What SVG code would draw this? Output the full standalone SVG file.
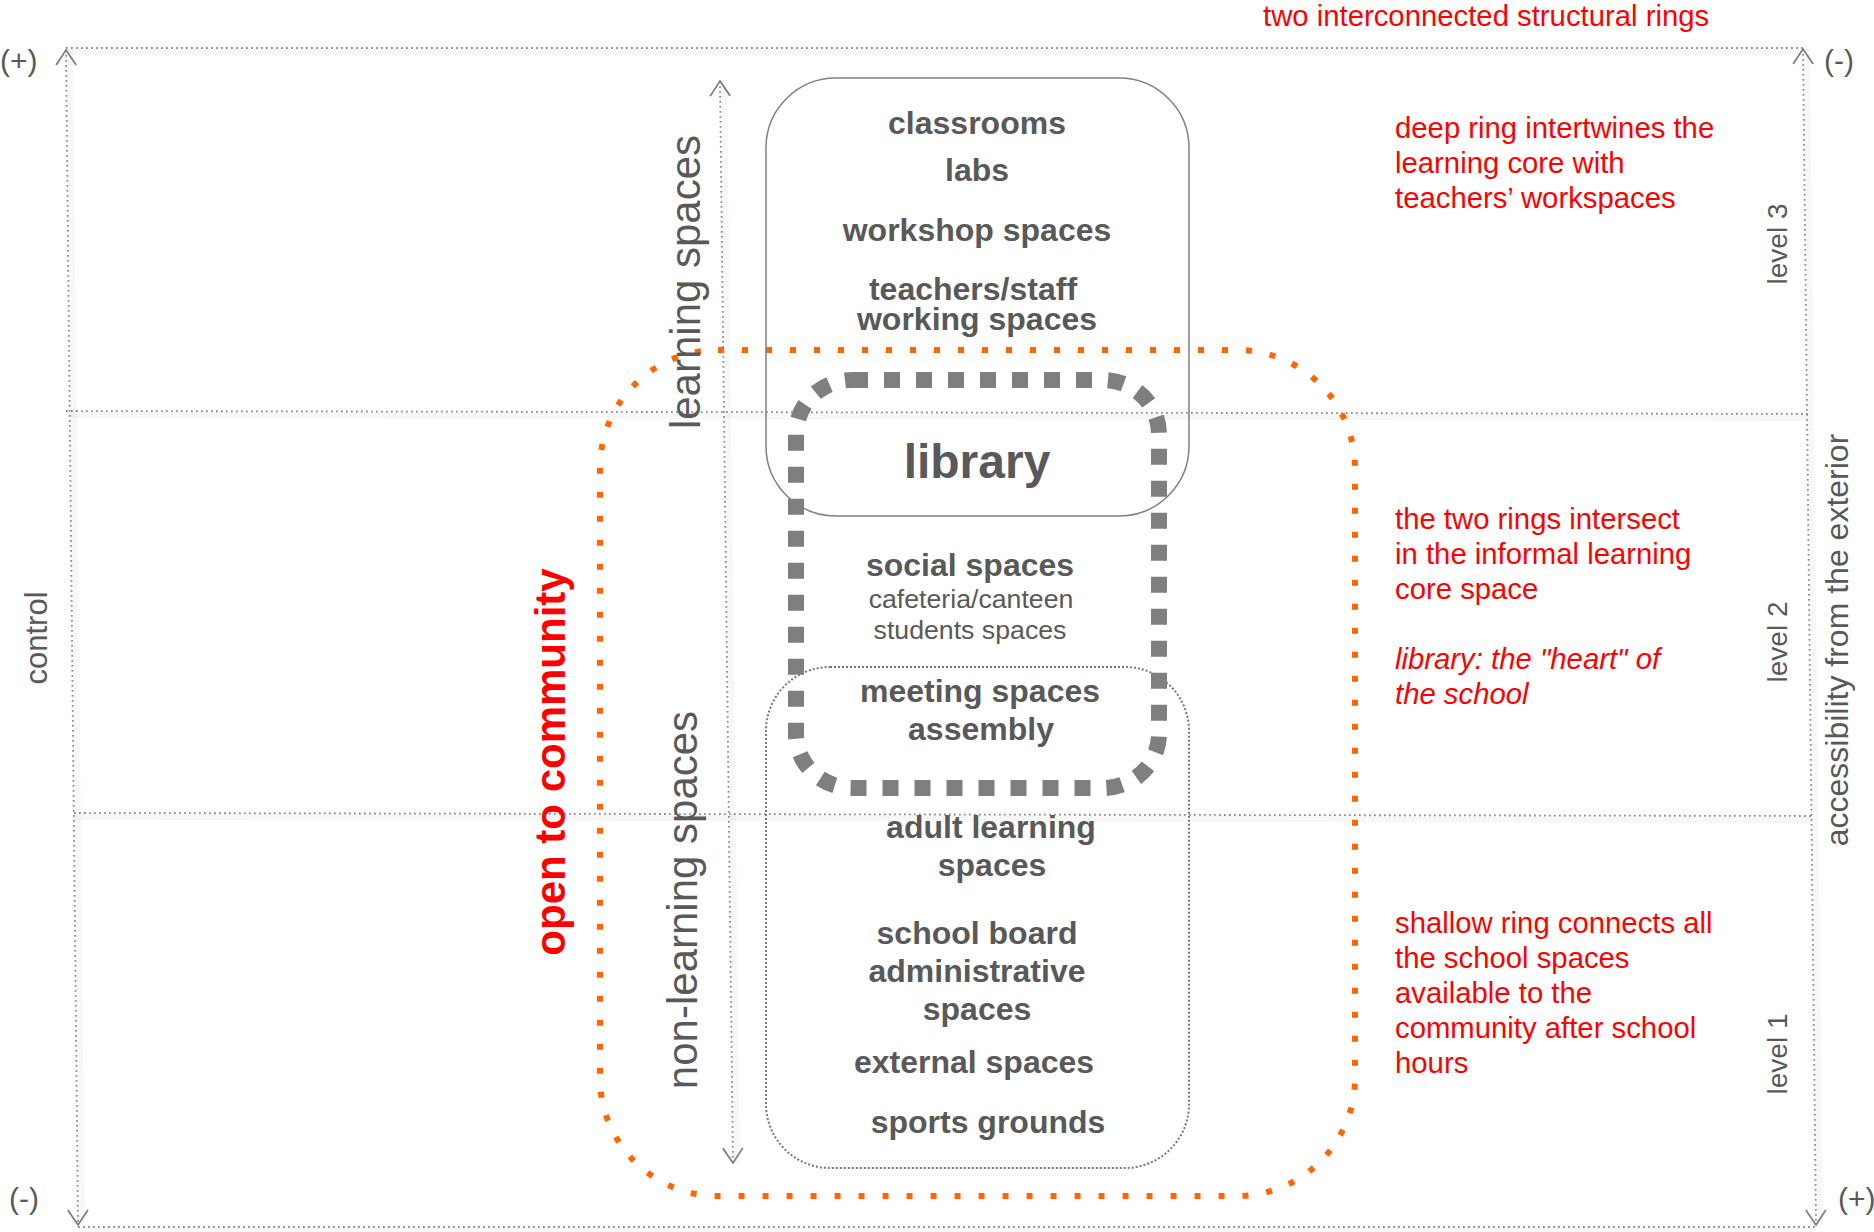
<svg xmlns="http://www.w3.org/2000/svg" width="1874" height="1232" viewBox="0 0 1874 1232">
<defs>
<style>
.ax{fill:none;stroke:#8c8c8c;stroke-width:1.8;stroke-dasharray:1.8 3.2}
.sh{fill:none;stroke:#000;stroke-opacity:0.03;stroke-width:6}
.t{font-family:"Liberation Sans",Arial,Helvetica,sans-serif;fill:#595959}
.b{font-weight:bold}
.c{text-anchor:middle}
.n32{font-size:32px}
.red{font-family:"Liberation Sans",Arial,Helvetica,sans-serif;fill:#ff0000;font-size:29.3px}
.pm{font-family:"Liberation Sans",Arial,sans-serif;fill:#595959;font-size:30px}
</style>
<marker id="chev" markerUnits="userSpaceOnUse" viewBox="-20 -15 24 30" markerWidth="24" markerHeight="30" refX="0" refY="0" orient="auto-start-reverse" overflow="visible">
<path d="M-15,-10 L0,0 L-15,10" fill="none" stroke="#7f7f7f" stroke-width="1.8"/>
</marker>
</defs>
<rect width="1874" height="1232" fill="#ffffff"/>

<g id="connectors">
<g id="axis-shadows">
<path class="sh" d="M66,52 L1803,52"/>
<path class="sh" d="M66,415 L1808,418"/>
<path class="sh" d="M74,817 L1812,820"/>
<path class="sh" d="M78,1231 L1816,1231"/>
<path class="sh" d="M70,50 L82,1225"/>
<path class="sh" d="M1807,49 L1820,1225"/>
<path class="sh" d="M724,81 L737,1163"/>
</g>
<path class="ax" d="M66,48 L1803,48"/>
<path class="ax" d="M66,411 L1808,414"/>
<path class="ax" d="M74,813 L1812,816"/>
<path class="ax" d="M78,1227 L1816,1227"/>
<path class="ax" d="M66,50 L78,1225" marker-start="url(#chev)" marker-end="url(#chev)"/>
<path class="ax" d="M1803,49 L1816,1225" marker-start="url(#chev)" marker-end="url(#chev)"/>
<path class="ax" d="M720,81 L733,1163" marker-start="url(#chev)" marker-end="url(#chev)"/>
</g>

<g id="axis-labels">
<text class="pm" x="0" y="71">(+)</text>
<text class="pm" x="1824" y="71">(-)</text>
<text class="pm" x="9" y="1209">(-)</text>
<text class="pm" x="1838" y="1209">(+)</text>
<text class="t c" font-size="31" transform="translate(47,638) rotate(-90)">control</text>
<text class="t c" font-size="32" transform="translate(1848,640) rotate(-90)">accessibility from the exterior</text>
<text class="t c" font-size="28" transform="translate(1787,244) rotate(-90)">level 3</text>
<text class="t c" font-size="28" transform="translate(1787,642) rotate(-90)">level 2</text>
<text class="t c" font-size="28" transform="translate(1787,1054) rotate(-90)">level 1</text>
</g>

<g id="shallow-ring">
<rect x="600" y="350" width="755" height="846" rx="118" ry="118" fill="none" stroke="#ff6600" stroke-width="6" stroke-dasharray="6 18"/>
<text class="b c" font-family="Liberation Sans, Arial, sans-serif" font-size="42" fill="#ff0000" transform="translate(565,762) rotate(-90)">open to community</text>
</g>

<g id="learning-spaces-label">
<text class="t c" font-size="42" transform="translate(700,282) rotate(-90)">learning spaces</text>
</g>
<g id="non-learning-spaces-label">
<text class="t c" font-size="42" transform="translate(697,900) rotate(-90)">non-learning spaces</text>
</g>

<g id="learning-box">
<rect x="766" y="78" width="423" height="438" rx="70" ry="70" fill="none" stroke="#808080" stroke-width="1.5"/>
<text class="t b c n32" x="977" y="134">classrooms</text>
<text class="t b c n32" x="977" y="181">labs</text>
<text class="t b c n32" x="977" y="241">workshop spaces</text>
<text class="t b c n32" x="973" y="300">teachers/staff</text>
<text class="t b c n32" x="977" y="330">working spaces</text>
</g>

<g id="non-learning-box">
<rect x="766" y="667" width="423" height="501" rx="64" ry="64" fill="none" stroke="#777777" stroke-width="2" stroke-dasharray="2 2"/>
<text class="t b c n32" x="980" y="702">meeting spaces</text>
<text class="t b c n32" x="981" y="740">assembly</text>
<text class="t b c n32" x="991" y="838">adult learning</text>
<text class="t b c n32" x="992" y="876">spaces</text>
<text class="t b c n32" x="977" y="944">school board</text>
<text class="t b c n32" x="977" y="982">administrative</text>
<text class="t b c n32" x="977" y="1020">spaces</text>
<text class="t b c n32" x="974" y="1073">external spaces</text>
<text class="t b c n32" x="988" y="1133">sports grounds</text>
</g>

<g id="library-ring">
<rect x="796" y="380" width="363" height="408" rx="56" ry="54" fill="none" stroke="#7f7f7f" stroke-width="16" stroke-dasharray="16 16"/>
<text class="t b c" font-size="48" x="977" y="478">library</text>
<text class="t b c n32" x="970" y="576">social spaces</text>
<text class="t c" font-size="26.7" x="971" y="608">cafeteria/canteen</text>
<text class="t c" font-size="26.7" x="970" y="639">students spaces</text>
</g>

<g id="notes">
<text class="red" x="1263" y="26">two interconnected structural rings</text>
<text class="red" x="1395" y="138">deep ring intertwines the</text>
<text class="red" x="1395" y="173">learning core with</text>
<text class="red" x="1395" y="208">teachers’ workspaces</text>
<text class="red" x="1395" y="529">the two rings intersect</text>
<text class="red" x="1395" y="564">in the informal learning</text>
<text class="red" x="1395" y="599">core space</text>
<text class="red" x="1395" y="669" font-size="28" font-style="italic">library: the "heart" of</text>
<text class="red" x="1395" y="704" font-size="28" font-style="italic">the school</text>
<text class="red" x="1395" y="933">shallow ring connects all</text>
<text class="red" x="1395" y="968">the school spaces</text>
<text class="red" x="1395" y="1003">available to the</text>
<text class="red" x="1395" y="1038">community after school</text>
<text class="red" x="1395" y="1073">hours</text>
</g>
</svg>
